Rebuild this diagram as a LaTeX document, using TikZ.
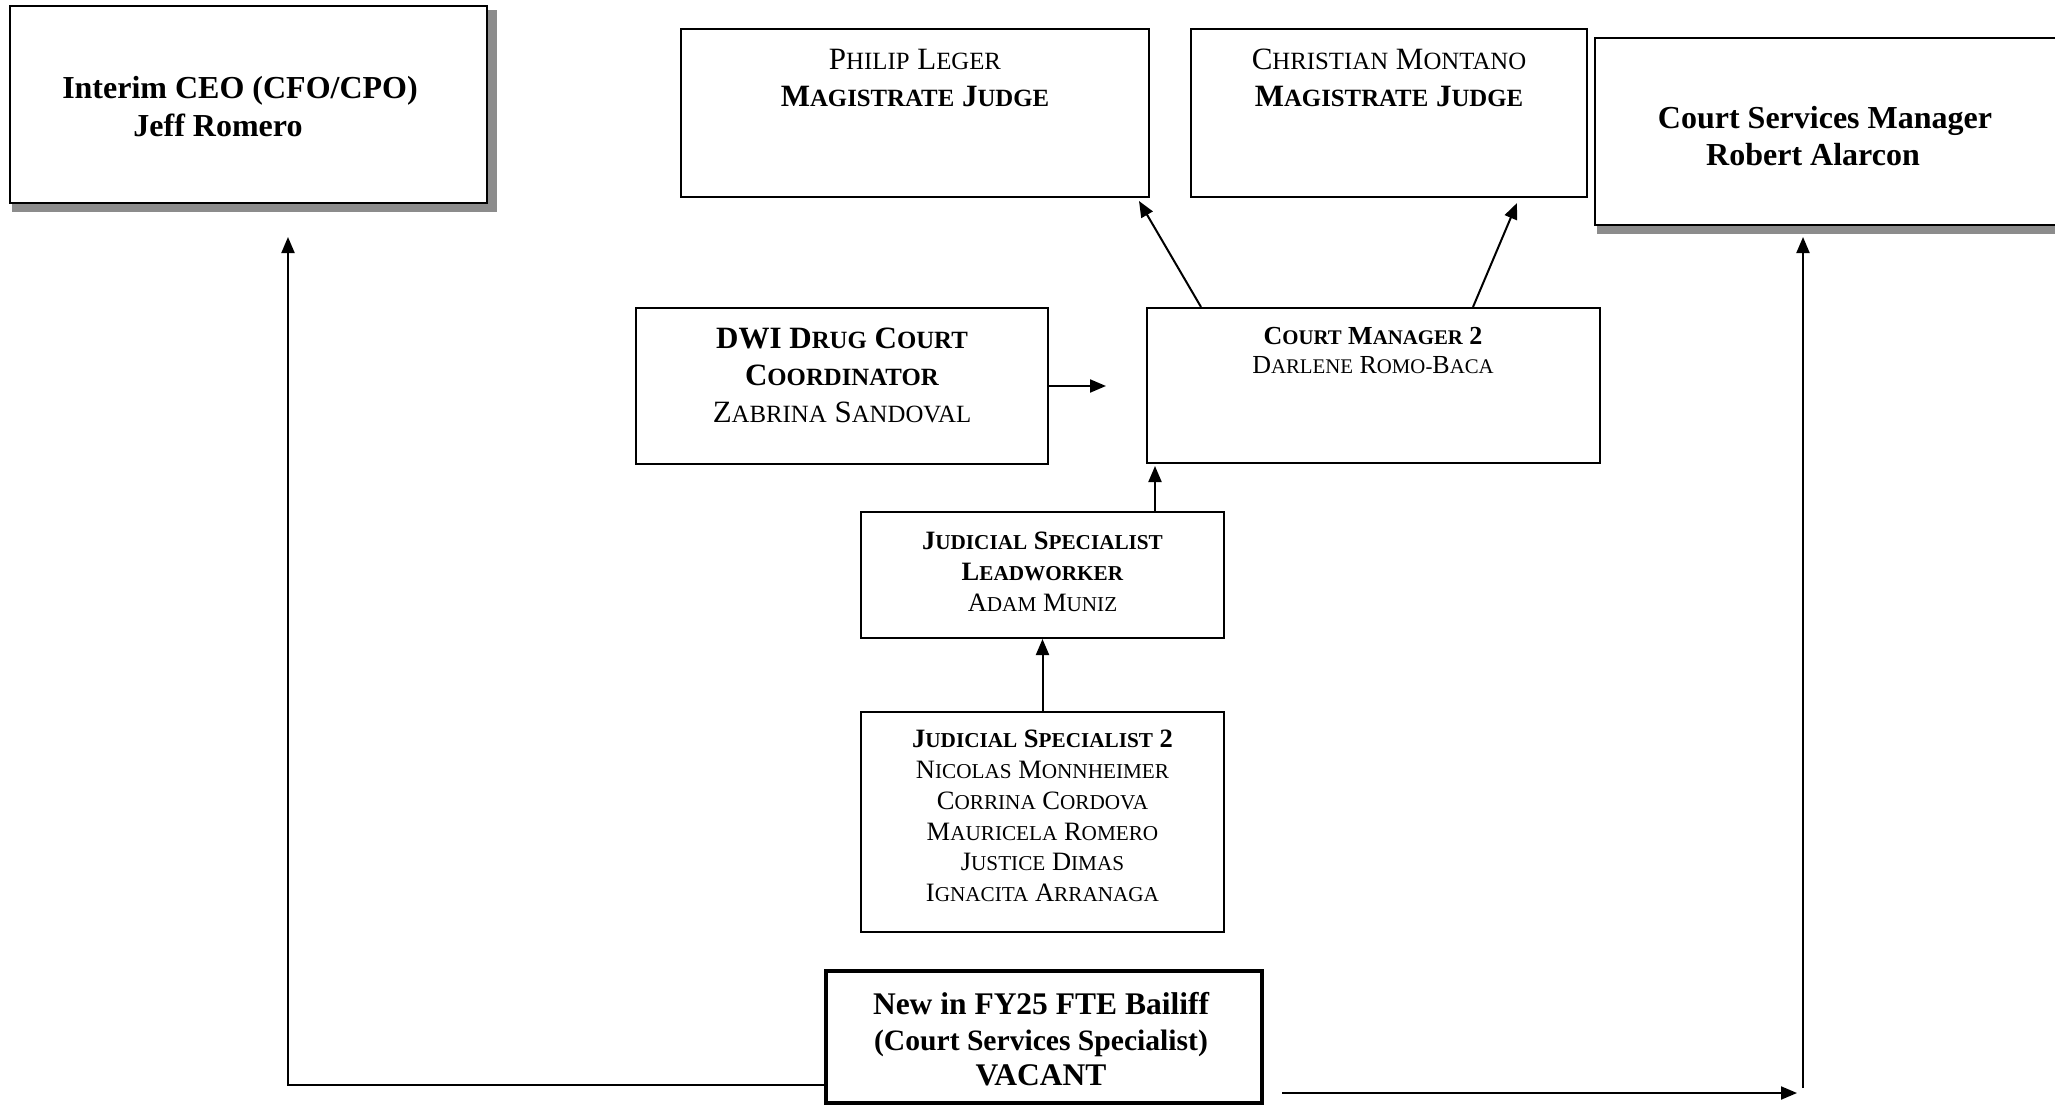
\documentclass[tikz,border=0pt]{standalone}
\usepackage{fontspec}
\setmainfont{Liberation Serif}
\usetikzlibrary{arrows.meta,calc}
\newcommand\SC[2]{#1{\fontsize{\scsize}{\scsize}\selectfont #2}}
\def\scsize{24}
\tikzset{
  box/.style={draw, line width=2pt, inner sep=0pt, fill=white},
  thickbox/.style={draw, line width=4pt, inner sep=0pt, fill=white},
  txt/.style={align=center, inner sep=0pt},
  arr/.style={line width=2pt, -{Triangle[length=16pt,width=13pt]}},
  ln/.style={line width=2pt},
  shadow/.style={fill=black!45}
}
\begin{document}
\begin{tikzpicture}[x=1pt,y=-1pt]
\clip (0,0) rectangle (2055,1105);
\fill[white] (0,0) rectangle (2055,1105);

% shadows
\fill[shadow] (488,10) rectangle (497,212);
\fill[shadow] (12,203) rectangle (497,212);
\fill[shadow] (1597,225) rectangle (2055,234);

% boxes
\node[box, minimum width=477, minimum height=197] (ceo) at (248.5,104.5) {};
\node[box, minimum width=468, minimum height=168] (phil) at (915,113) {};
\node[box, minimum width=396, minimum height=168] (mont) at (1389,113) {};
\node[box, minimum width=480, minimum height=187] (csm) at (1835,131.5) {};
\node[box, minimum width=412, minimum height=156] (dwi) at (842,386) {};
\node[box, minimum width=453, minimum height=155] (cm2) at (1373.5,385.5) {};
\node[box, minimum width=363, minimum height=126] (jsl) at (1042.5,575) {};
\node[box, minimum width=363, minimum height=220] (js2) at (1042.5,822) {};
\node[thickbox, minimum width=436, minimum height=132] (bail) at (1044,1037) {};

% texts
\node[txt, font=\bfseries\fontsize{32}{38}\selectfont] (ceo-t) at (240,107)
  {Interim CEO (CFO/CPO)\\Jeff Romero\hspace*{44pt}};
\node[txt, font=\fontsize{31}{37}\selectfont\def\scsize{24.8}] (phil-t) at (915,78.5)
  {\SC{P}{HILIP} \SC{L}{EGER}\\\textbf{\SC{M}{AGISTRATE} \SC{J}{UDGE}}};
\node[txt, font=\fontsize{31}{37}\selectfont\def\scsize{24.8}] (mont-t) at (1389,77.5)
  {\SC{C}{HRISTIAN} \SC{M}{ONTANO}\\\textbf{\SC{M}{AGISTRATE} \SC{J}{UDGE}}};
\node[txt, font=\bfseries\fontsize{32}{37}\selectfont] (csm-t) at (1825,136)
  {Court Services Manager\\Robert Alarcon\hspace*{24pt}};
\node[txt, font=\fontsize{31}{37}\selectfont\def\scsize{24.8}] (dwi-t) at (842,375)
  {\textbf{DWI \SC{D}{RUG} \SC{C}{OURT}}\\\textbf{\SC{C}{OORDINATOR}}\\\SC{Z}{ABRINA} \SC{S}{ANDOVAL}};
\node[txt, font=\fontsize{26}{29}\selectfont\def\scsize{20.8}] (cm2-t) at (1373,350)
  {\textbf{\SC{C}{OURT} \SC{M}{ANAGER} 2}\\\SC{D}{ARLENE} \SC{R}{OMO-}\SC{B}{ACA}};
\node[txt, font=\fontsize{26.5}{31}\selectfont\def\scsize{21.2}] (jsl-t) at (1042.5,572)
  {\textbf{\SC{J}{UDICIAL} \SC{S}{PECIALIST}}\\\textbf{\SC{L}{EADWORKER}}\\\SC{A}{DAM} \SC{M}{UNIZ}};
\node[txt, font=\fontsize{26.5}{30.7}\selectfont\def\scsize{21.2}] (js2-t) at (1042.5,816)
  {\textbf{\SC{J}{UDICIAL} \SC{S}{PECIALIST} 2}\\\SC{N}{ICOLAS} \SC{M}{ONNHEIMER}\\\SC{C}{ORRINA} \SC{C}{ORDOVA}\\\SC{M}{AURICELA} \SC{R}{OMERO}\\\SC{J}{USTICE} \SC{D}{IMAS}\\\SC{I}{GNACITA} \SC{A}{RRANAGA}};
\node[txt, font=\bfseries\fontsize{31.5}{35.5}\selectfont] (bail-t) at (1041,1039.5)
  {New in FY25 FTE Bailiff\\{\fontsize{29.6}{35.5}\selectfont(Court Services Specialist)}\\VACANT};

% free ends
\coordinate (ceoT) at (288,237);
\coordinate (csmT) at (1803,237);
\coordinate (csmB) at (1803,1088);
\coordinate (hs) at (1282,1093);
\coordinate (he) at (1797,1093);
\coordinate (jslA) at ($(jsl.north west)+(295,0)$);
\coordinate (cm2A) at ($(cm2.south west)+(9,2)$);
\coordinate (bailA) at ($(bail.south west)+(0,-20)$);

% connectors
\draw[arr] ($(cm2.north west)+(55,0)$) -- ($(phil.south east)+(-11,3)$);
\draw[arr] ($(cm2.north west)+(327,0)$) -- ($(mont.south west)+(327,5)$);
\draw[arr] (dwi.east) -- ($(dwi.east)+(57,0)$);
\draw[arr] (jslA) -- (jslA |- cm2A);
\draw[arr] (js2.north) -- (jsl.south);
\draw[arr] (bailA) -| (ceoT);
\draw[arr] (hs) -- (he);
\draw[arr] (csmB) -- (csmT);
\end{tikzpicture}
\end{document}
